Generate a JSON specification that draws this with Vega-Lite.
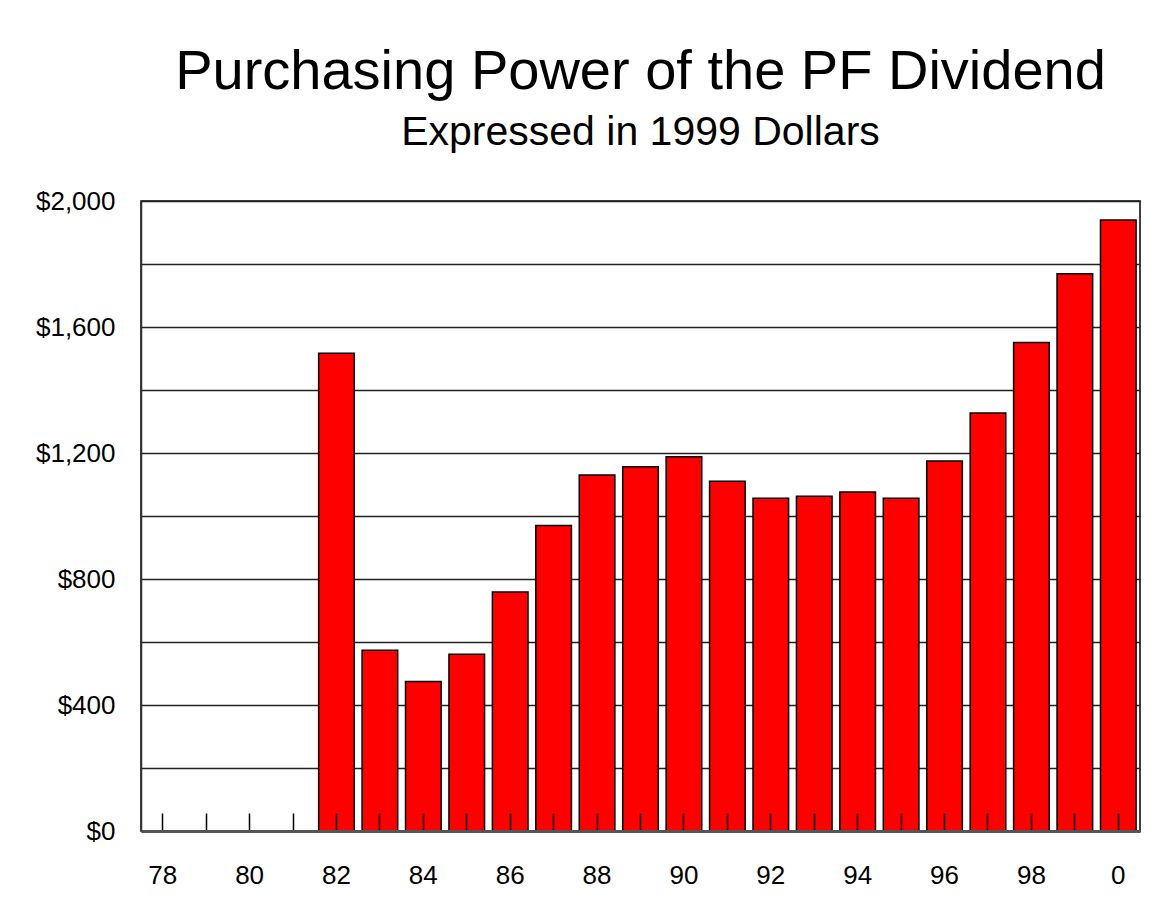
{
  "$schema": "https://vega.github.io/schema/vega-lite/v6.json",
  "width": 999,
  "height": 630,
  "padding": {"left": 35, "top": 44, "right": 19, "bottom": 16},
  "background": "#ffffff",
  "title": {
    "text": "Purchasing Power of the PF Dividend",
    "subtitle": "Expressed in 1999 Dollars",
    "anchor": "middle",
    "frame": "group",
    "font": "Liberation Sans",
    "fontSize": 56,
    "fontWeight": "normal",
    "color": "#000000",
    "subtitleFont": "Liberation Sans",
    "subtitleFontSize": 41,
    "subtitleColor": "#000000",
    "subtitlePadding": 12,
    "offset": 34
  },
  "data": {
    "values": [
      {"year": 1978, "value": null},
      {"year": 1979, "value": null},
      {"year": 1980, "value": null},
      {"year": 1981, "value": null},
      {"year": 1982, "value": 1517},
      {"year": 1983, "value": 574},
      {"year": 1984, "value": 475},
      {"year": 1985, "value": 561},
      {"year": 1986, "value": 759},
      {"year": 1987, "value": 970},
      {"year": 1988, "value": 1130},
      {"year": 1989, "value": 1156},
      {"year": 1990, "value": 1188},
      {"year": 1991, "value": 1110},
      {"year": 1992, "value": 1056},
      {"year": 1993, "value": 1063},
      {"year": 1994, "value": 1076},
      {"year": 1995, "value": 1056},
      {"year": 1996, "value": 1175},
      {"year": 1997, "value": 1327},
      {"year": 1998, "value": 1551},
      {"year": 1999, "value": 1769},
      {"year": 2000, "value": 1940}
    ]
  },
  "mark": {"type": "bar", "fill": "#ff0000", "stroke": "#000000", "strokeWidth": 1.5},
  "encoding": {
    "x": {
      "field": "year",
      "type": "ordinal",
      "scale": {
        "domain": [1978,1979,1980,1981,1982,1983,1984,1985,1986,1987,1988,1989,1990,1991,1992,1993,1994,1995,1996,1997,1998,1999,2000],
        "paddingInner": 0.18,
        "paddingOuter": 0.09
      },
      "axis": {
        "title": null,
        "zindex": 1,
        "labelAngle": 0,
        "labelExpr": "datum.value % 2 == 0 ? (datum.value % 100) + '' : ''",
        "labelFont": "Liberation Sans",
        "labelFontSize": 26,
        "labelColor": "#000000",
        "labelPadding": 49,
        "tickSize": -18,
        "tickColor": "#000000",
        "tickWidth": 1.5,
        "domainColor": "#555555",
        "domainWidth": 3,
        "grid": false
      }
    },
    "y": {
      "field": "value",
      "type": "quantitative",
      "scale": {"domain": [0, 2000], "nice": false},
      "axis": {
        "title": null,
        "values": [0,200,400,600,800,1000,1200,1400,1600,1800,2000],
        "format": "$,.0f",
        "labelExpr": "datum.value % 400 == 0 ? datum.label : ''",
        "labelFont": "Liberation Sans",
        "labelFontSize": 26,
        "labelColor": "#000000",
        "labelPadding": 26,
        "tickSize": 0,
        "grid": true,
        "gridColor": "#222222",
        "gridWidth": 1.5,
        "domainColor": "#333333",
        "domainWidth": 1.5
      }
    }
  },
  "config": {
    "view": {"stroke": "#000000", "strokeWidth": 1.5}
  }
}
